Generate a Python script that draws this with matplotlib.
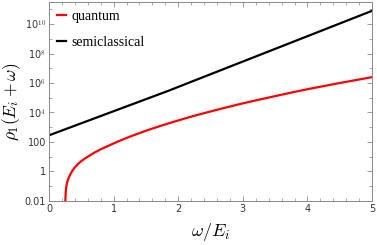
import numpy as np
import matplotlib
matplotlib.use('Agg')
import matplotlib.pyplot as plt
from matplotlib.ticker import FixedLocator, MultipleLocator, NullFormatter

plt.rcParams['mathtext.fontset'] = 'cm'

# quantum curve (omega/E_i, log10 rho)
quantum_w = [0.25, 0.252, 0.255, 0.258, 0.262, 0.267, 0.275, 0.29, 0.31, 0.34, 0.37, 0.40,
             0.45, 0.5, 0.55, 0.6, 0.7, 0.8, 0.9, 1.0, 1.1, 1.2, 1.3, 1.4, 1.5, 1.6,
             1.72, 1.85, 2.0, 2.25, 2.5, 2.75, 3.0, 3.25, 3.5, 3.75, 4.0, 4.25,
             4.5, 4.75, 5.0]
quantum_log = [-3.0, -2.1, -1.7, -1.45, -1.25, -1.05, -0.85, -0.6, -0.38, -0.12, 0.1, 0.28,
               0.51, 0.7, 0.86, 1.0, 1.27, 1.5, 1.7, 1.9, 2.09, 2.27, 2.44, 2.6, 2.76, 2.91,
               3.08, 3.26, 3.46, 3.78, 4.07, 4.35, 4.62, 4.87, 5.11, 5.35, 5.58, 5.79,
               6.0, 6.2, 6.4]

# semiclassical line
semi_w = [0.0, 1.84, 5.0]
semi_log = [2.45, 5.46, 10.9]

ytick_vals = [0.01, 1, 100, 1e4, 1e6, 1e8, 1e10]
ytick_labels = ['0.01', '1', '100', r'10$^\mathsf{4}$', r'10$^\mathsf{6}$',
                r'10$^\mathsf{8}$', r'10$^\mathsf{10}$']

fig = plt.figure(figsize=(3.77, 2.45), dpi=100)
ax = fig.add_axes([0.130, 0.180, 0.857, 0.812])

ax.plot(quantum_w, 10 ** np.array(quantum_log), color='#ff0000', lw=1.6, label='quantum')
ax.plot(semi_w, 10 ** np.array(semi_log), color='black', lw=1.6, label='semiclassical')

ax.set_yscale('log')
ax.set_xlim(0, 5)
ax.set_ylim(0.01, 10 ** 11.5)

ax.set_yticks(ytick_vals)
ax.set_yticklabels(ytick_labels)
ax.yaxis.set_minor_locator(FixedLocator([10.0 ** k for k in range(-2, 12)]))
ax.yaxis.set_minor_formatter(NullFormatter())
ax.xaxis.set_major_locator(MultipleLocator(1))
ax.xaxis.set_minor_locator(MultipleLocator(0.2))

ax.tick_params(which='both', direction='in', top=True, right=True, labelsize=7,
               color='#888888', pad=2)
ax.tick_params(which='major', length=3.5, width=0.6)
ax.tick_params(which='minor', length=2, width=0.5)
for lab in ax.get_xticklabels() + ax.get_yticklabels():
    lab.set_color('#333333')
for s in ax.spines.values():
    s.set_color('#888888')
    s.set_linewidth(0.7)

ax.set_xlabel(r'$\omega/E_i$', fontsize=13, labelpad=5)
ax.set_ylabel(r'$\rho_1(E_i+\omega)$', fontsize=12.5)
ax.yaxis.set_label_coords(-0.082, 0.5)

leg = ax.legend(loc='upper left', frameon=False, handlelength=0.6, handletextpad=0.4,
                labelspacing=0.9, borderaxespad=0.3, borderpad=0.3,
                prop={'family': 'Liberation Serif', 'size': 10})

fig.savefig('out.png', dpi=100)
